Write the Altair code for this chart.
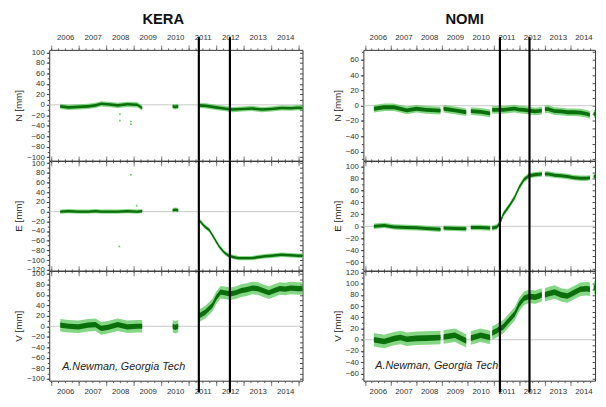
import altair as alt
import pandas as pd

FONT = "Liberation Sans"
DARK = "#0a6e0a"
LIGHT = "#5cc85c"
CREDIT = "A.Newman, Georgia Tech"
TITLES = ["KERA", "NOMI"]
YEARS_KERA = [2006, 2007, 2008, 2009, 2010, 2011, 2012, 2013, 2014, 2015]
YEARS_NOMI = [2006, 2007, 2008, 2009, 2010, 2011, 2012, 2013, 2014]
XDOM_KERA = [2005.92, 2015.13]
XDOM_NOMI = [2005.94, 2014.95]
EVENTS_KERA = [2011.36, 2012.49]
EVENTS_NOMI = [2011.25, 2012.40]

# ---------------- KERA ----------------
KERA_N_T = [2006.32, 2006.62, 2006.98, 2007.33, 2007.6, 2007.81, 2008.05, 2008.41, 2008.76, 2009.12, 2009.3,
            2010.41, 2010.5, 2010.61,
            2011.37, 2011.63, 2011.98, 2012.34, 2012.58, 2012.93, 2013.29, 2013.65, 2014.0, 2014.36, 2014.71, 2014.95, 2015.13]
KERA_N_V = [-3, -5, -4, -3, -1, 2, 1, -1, 1, 0, -6,
            -3, -4, -3,
            -1, -2, -5, -7.5, -9, -8, -7, -9, -8, -6, -6.5, -5.5, -6]
KERA_N_SEG = [0] * 11 + [1] * 3 + [2] * 13

KERA_E_T = [2006.32, 2006.62, 2006.98, 2007.33, 2007.6, 2007.81, 2008.05, 2008.41, 2008.76, 2009.12, 2009.3,
            2010.41, 2010.5, 2010.61,
            2011.38, 2011.56, 2011.74, 2011.92, 2012.10, 2012.28, 2012.45, 2012.63, 2012.81, 2013.0, 2013.29,
            2013.5, 2013.77, 2014.0, 2014.36, 2014.7, 2015.0, 2015.13]
KERA_E_V = [0, 1, 0, 0, 1, 0, 0, 0, 1, 0, 1,
            3, 4, 3,
            -18, -30, -38, -55, -72, -84, -91, -94, -96, -96, -96,
            -94, -92, -91, -89, -90, -91, -91]
KERA_E_SEG = [0] * 11 + [1] * 3 + [2] * 18

KERA_V_T = [2006.32, 2006.62, 2006.98, 2007.33, 2007.6, 2007.81, 2008.05, 2008.41, 2008.76, 2009.12, 2009.3,
            2010.41, 2010.5, 2010.61,
            2011.37, 2011.6, 2011.85, 2012.0, 2012.15, 2012.3, 2012.5, 2012.7, 2012.9, 2013.1, 2013.3,
            2013.5, 2013.7, 2013.9, 2014.1, 2014.3, 2014.5, 2014.7, 2015.0, 2015.13]
KERA_V_V = [2, 0, -1, 2, 3, -4, -2, 3, -1, 0, 0,
            0, -2, 0,
            20, 27, 40, 55, 65, 64, 62, 64, 68, 70, 73,
            72, 68, 64, 68, 72, 71, 73, 72, 72]
KERA_V_SEG = [0] * 11 + [1] * 3 + [2] * 20

KERA_N_OUT_T = [2008.49, 2008.49, 2008.89, 2008.89]
KERA_N_OUT_V = [-18, -30, -32, -37]
KERA_E_OUT_T = [2008.89, 2008.47, 2009.1]
KERA_E_OUT_V = [76, -72, 12]

# ---------------- NOMI ----------------
NOMI_T = [2006.35, 2006.75, 2007.13, 2007.38, 2007.63, 2008.0, 2008.38, 2008.94,
          2009.06, 2009.5, 2009.94,
          2010.12, 2010.5, 2010.87,
          2010.95, 2011.13, 2011.25, 2011.38, 2011.63, 2011.82, 2012.0, 2012.19, 2012.38, 2012.63, 2012.88,
          2013.0, 2013.13, 2013.38, 2013.63, 2013.88, 2014.13, 2014.38, 2014.63, 2014.75,
          2014.9, 2014.95]
NOMI_SEG = [0] * 8 + [1] * 3 + [2] * 3 + [3] * 11 + [4] * 9 + [5] * 2
NOMI_N_V = [-4, -2, -2, -4, -6, -4, -5.5, -6.5,
            -4, -6, -8.5,
            -7, -8, -10,
            -5.5, -5.5, -5, -5.5, -4.5, -3.8, -5, -5.5, -6.4, -7.5, -6.5,
            -4.5, -4.5, -7, -7.5, -8.5, -8.5, -9, -10.7, -12,
            -10.7, -10.7]
NOMI_E_V = [0, 1.5, -1, -1.5, -2, -2.5, -3.5, -5,
            -3, -3.5, -4,
            -2, -2, -3,
            -3, -1, 5, 20, 35, 48, 65, 78, 84, 86, 87,
            87, 87, 85, 84, 83, 81, 80, 80, 81,
            83, 83]
NOMI_V_V = [0, -3, 2, 4, 1, 2.5, 3, 4,
            5, 8, -2,
            3, 8, 4,
            12, 16, 20, 23, 36, 46, 63, 74, 77, 76, 80,
            80, 82, 85, 80, 78, 84, 90, 91, 90,
            92, 94]

# spreads (mm): inner, outer
SPREAD = {"N": (2.5, 5), "E": (2.5, 4.5), "V": (5, 12)}

YDOM = {("KERA", "N"): [-107, 105], ("KERA", "E"): [-122, 105], ("KERA", "V"): [-104, 106],
        ("NOMI", "N"): [-72, 73], ("NOMI", "E"): [-74, 109], ("NOMI", "V"): [-73, 123]}
YTICKS = {("KERA", "N"): list(range(-100, 101, 20)), ("KERA", "E"): list(range(-120, 101, 20)),
          ("KERA", "V"): list(range(-100, 101, 20)), ("NOMI", "N"): list(range(-60, 61, 20)),
          ("NOMI", "E"): list(range(-60, 101, 20)), ("NOMI", "V"): list(range(-60, 121, 20))}

HEIGHTS = [113, 112, 112]
WIDTHS = {"KERA": 258, "NOMI": 236}


def panel(st, comp, t, v, seg, xdom, years, events, idx, out_t=None, out_v=None, credit_pos=None):
    w = WIDTHS[st]
    h = HEIGHTS[idx]
    half = w / (xdom[1] - xdom[0]) / 2
    si, so = SPREAD[comp]
    df = pd.DataFrame({"t": t, "v": v, "seg": seg})
    df["lo1"] = df["v"] - si
    df["hi1"] = df["v"] + si
    df["lo2"] = df["v"] - so
    df["hi2"] = df["v"] + so
    xs = alt.Scale(domain=xdom, nice=False, zero=False)
    ydom = YDOM[(st, comp)]
    ys = alt.Scale(domain=ydom, nice=False, zero=False)
    minor_x = [y + q * 0.25 for y in range(2005, 2016) for q in range(4) if xdom[0] <= y + q * 0.25 <= xdom[1]]
    minor_y = [k for k in range(-200, 201, 10) if ydom[0] <= k <= ydom[1]]

    def xmaj(orient, labels):
        return alt.Axis(orient=orient, values=years, labels=labels, format="d",
                        labelExpr="datum.value < 2014.9 ? datum.label : ''",
                        labelOffset=half, labelFontSize=8, labelFont=FONT, labelColor="#333",
                        labelPadding=4 if orient == "top" else 2, tickSize=5, tickColor="#999",
                        tickWidth=1.3, domain=False, grid=False, title=None, labelOverlap=False)

    def xmin(orient):
        return alt.Axis(orient=orient, values=minor_x, labels=False, tickSize=2, tickColor="#444",
                        tickWidth=0.8, domain=False, grid=False, title=None)

    yleft = alt.Axis(orient="left", values=YTICKS[(st, comp)], labelFontSize=8, labelFont=FONT,
                     labelColor="#333", tickSize=3, tickColor="#444", labelPadding=2,
                     domain=False, grid=False, title=f"{comp} [mm]", titleFont=FONT, titleFontSize=10,
                     titleFontWeight="normal", titleColor="#222", titlePadding=3, labelOverlap=False)
    yleft_minor = alt.Axis(orient="left", values=minor_y, labels=False, tickSize=2, tickColor="#444",
                           domain=False, grid=False, title=None)
    yright = alt.Axis(orient="right", values=minor_y, labels=False, tickSize=3, tickColor="#444",
                      domain=False, grid=False, title=None, offset=-3)

    zero = alt.Chart(pd.DataFrame({"z": [0]})).mark_rule(color="#c8c8c8", strokeWidth=1).encode(
        y=alt.Y("z:Q", scale=ys, axis=None))
    outer = alt.Chart(df).mark_area(color=LIGHT, opacity=0.75).encode(
        x=alt.X("t:Q", scale=xs, axis=xmaj("bottom", idx == 2)),
        y=alt.Y("lo2:Q", scale=ys, axis=yleft), y2="hi2:Q", detail="seg:N")
    inner = alt.Chart(df).mark_area(color=DARK).encode(
        x=alt.X("t:Q", scale=xs, axis=xmaj("top", idx == 0)),
        y=alt.Y("lo1:Q", scale=ys, axis=yright), y2="hi1:Q", detail="seg:N")
    line = alt.Chart(df).mark_line(color=DARK, strokeWidth=1).encode(
        x=alt.X("t:Q", scale=xs, axis=xmin("top")),
        y=alt.Y("v:Q", scale=ys, axis=yleft_minor), detail="seg:N")
    y0 = -13 if idx == 0 else 0
    y1 = h + 12 if idx == 2 else h
    ev = alt.Chart(pd.DataFrame({"ev": events})).mark_rule(color="black", strokeWidth=2.2).encode(
        x=alt.X("ev:Q", scale=xs, axis=xmin("bottom")), y=alt.value(y0), y2=alt.value(y1))
    layers = [zero, outer, inner, line]
    if out_t:
        pts = alt.Chart(pd.DataFrame({"t": out_t, "v": out_v})).mark_point(
            filled=True, size=4, color=LIGHT, opacity=0.9).encode(
            x=alt.X("t:Q", scale=xs, axis=None), y=alt.Y("v:Q", scale=ys, axis=None))
        layers.append(pts)
    layers.append(ev)
    if credit_pos:
        txt = alt.Chart(pd.DataFrame({"t": [credit_pos[0]], "v": [credit_pos[1]], "s": [CREDIT]})).mark_text(
            align="left", baseline="middle", font=FONT, fontStyle="italic", fontSize=11, color="#222").encode(
            x=alt.X("t:Q", scale=xs, axis=None), y=alt.Y("v:Q", scale=ys, axis=None), text="s:N")
        layers.append(txt)
    return alt.layer(*layers).resolve_axis(x="independent", y="independent").properties(width=w, height=h)


def column(st, series, xdom, years, events, credit_pos, outliers):
    panels = []
    for i, comp in enumerate(["N", "E", "V"]):
        t, v, seg = series[comp]
        ot, ov = outliers.get(comp, (None, None))
        panels.append(panel(st, comp, t, v, seg, xdom, years, events, i, ot, ov,
                            credit_pos if comp == "V" else None))
    return alt.vconcat(*panels, spacing=0, bounds="flush").properties(
        title=alt.TitleParams(st, font=FONT, fontSize=15, fontWeight="bold", color="#111",
                              anchor="middle", offset=6))


kera = column("KERA", {"N": (KERA_N_T, KERA_N_V, KERA_N_SEG), "E": (KERA_E_T, KERA_E_V, KERA_E_SEG),
                       "V": (KERA_V_T, KERA_V_V, KERA_V_SEG)},
              XDOM_KERA, YEARS_KERA, EVENTS_KERA, (2006.39, -77),
              {"N": (KERA_N_OUT_T, KERA_N_OUT_V), "E": (KERA_E_OUT_T, KERA_E_OUT_V)})
nomi = column("NOMI", {"N": (NOMI_T, NOMI_N_V, NOMI_SEG), "E": (NOMI_T, NOMI_E_V, NOMI_SEG),
                       "V": (NOMI_T, NOMI_V_V, NOMI_SEG)},
              XDOM_NOMI, YEARS_NOMI, EVENTS_NOMI, (2006.4, -47), {})

chart = alt.hconcat(kera, nomi, spacing=18).properties(
    padding={"left": 5, "top": 0, "right": 0, "bottom": 0}, background="white"
).configure_view(stroke="#333", strokeWidth=1)

chart.save("out.html", embed_options={"renderer": "svg", "actions": False})
